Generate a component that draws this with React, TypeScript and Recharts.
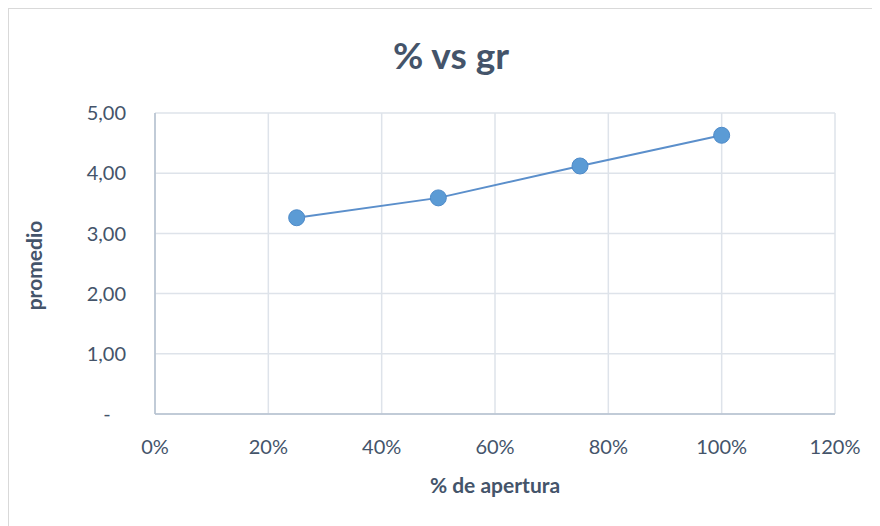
import React from 'react';
import { LineChart, Line, XAxis, YAxis, CartesianGrid, Label } from 'recharts';

const apertura = [0.25, 0.5, 0.75, 1.0];
const promedio = [3.26, 3.59, 4.12, 4.63];
const xTicks = [0, 0.2, 0.4, 0.6, 0.8, 1.0, 1.2];
const yTicks = [0, 1, 2, 3, 4, 5];

const data = apertura.map((x, i) => ({ x, y: promedio[i] }));

const FONT = 'Lato, "Open Sans", sans-serif';
const TEXT = '#44546A';

const fmtPct = (v: number) => `${Math.round(v * 100)}%`;
const fmtNum = (v: number) => (v === 0 ? '-\u00A0\u00A0\u00A0' : v.toFixed(2).replace('.', ','));

const XTitle = ({ viewBox }: any) => (
  <text
    x={viewBox.x + viewBox.width / 2}
    y={viewBox.y + 70}
    textAnchor="middle"
    dominantBaseline="central"
    fill={TEXT}
    fontFamily={FONT}
    fontWeight={700}
    fontSize={21}
  >
    % de apertura
  </text>
);

const YTitle = ({ viewBox }: any) => {
  const cx = 24;
  const cy = viewBox.y + viewBox.height / 2 + 2;
  return (
    <text
      x={cx}
      y={cy}
      transform={`rotate(-90 ${cx} ${cy})`}
      textAnchor="middle"
      dominantBaseline="central"
      fill={TEXT}
      fontFamily={FONT}
      fontWeight={700}
      fontSize={21}
    >
      promedio
    </text>
  );
};

export default function App() {
  return (
    <div
      style={{
        position: 'relative',
        width: 880,
        height: 526,
        borderLeft: '1px solid #D9D9D9',
        borderTop: '1px solid #D9D9D9',
        background: '#fff',
        fontFamily: FONT,
      }}
    >
      <div
        style={{
          position: 'absolute',
          left: 0,
          top: 23,
          width: 884,
          textAlign: 'center',
          fontSize: 37,
          fontWeight: 700,
          color: TEXT,
        }}
      >
        % vs gr
      </div>
      <LineChart width={880} height={526} data={data} margin={{ top: 104, right: 54, bottom: 31, left: 6 }}>
        <CartesianGrid stroke="#DEE3EA" strokeWidth={1.5} />
        <XAxis
          type="number"
          dataKey="x"
          domain={[0, 1.2]}
          ticks={xTicks}
          tickFormatter={fmtPct}
          height={90}
          tickSize={0}
          tickMargin={26}
          axisLine={{ stroke: '#B4C0CF', strokeWidth: 1.5 }}
          tick={{ fill: TEXT, fontSize: 20, fontFamily: FONT }}
        >
          <Label content={<XTitle />} />
        </XAxis>
        <YAxis
          type="number"
          domain={[0, 5]}
          ticks={yTicks}
          tickFormatter={fmtNum}
          width={140}
          tickSize={0}
          tickMargin={29}
          axisLine={{ stroke: '#B4C0CF', strokeWidth: 1.5 }}
          tick={{ fill: TEXT, fontSize: 20, fontFamily: FONT }}
        >
          <Label content={<YTitle />} />
        </YAxis>
        <Line
          type="linear"
          dataKey="y"
          stroke="#5B8FCB"
          strokeWidth={2}
          dot={{ r: 8, fill: '#5B9BD5', stroke: '#4F8BC9', strokeWidth: 1 }}
          isAnimationActive={false}
        />
      </LineChart>
    </div>
  );
}
